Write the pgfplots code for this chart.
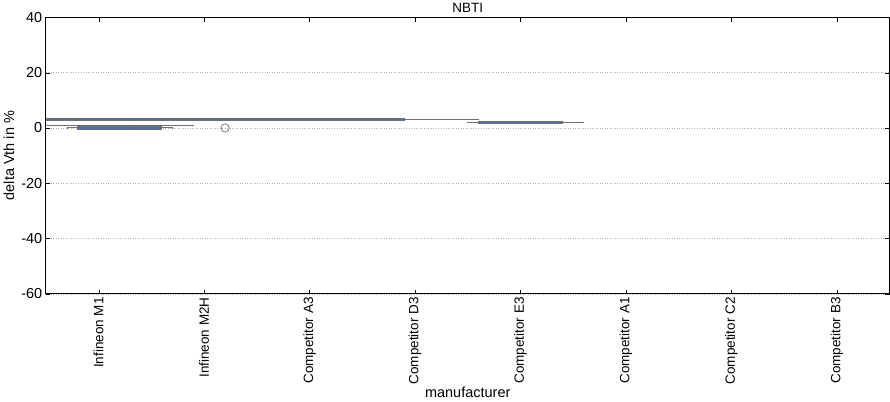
\documentclass[border=0pt]{standalone}
\usepackage{fontspec}
\setmainfont{Liberation Sans}
\usepackage{pgfplots}
\pgfplotsset{compat=1.18}
\usepgfplotslibrary{statistics}
\definecolor{sb}{HTML}{4C72B0}
\definecolor{gr}{HTML}{707070}
\tikzset{mybox/.style={fill=sb, draw=gr, line width=0.9pt, solid, mark=o, mark size=4pt, mark options={draw=gr, fill=none, line width=0.7pt}}}
\begin{document}
\begin{tikzpicture}
\begin{axis}[
  scale only axis, width=815pt, height=267pt,
  xmin=-0.5, xmax=7.5, ymin=-60, ymax=40,
  ytick={-60,-40,...,40},
  xtick={0,...,7},
  xticklabels={Infineon M1,Infineon M2H,Competitor A3,Competitor D3,Competitor E3,Competitor A1,Competitor C2,Competitor B3},
  xticklabel style={rotate=90,anchor=east,font=\fontsize{13}{15}\selectfont},
  yticklabel style={font=\fontsize{14}{16}\selectfont},
  /pgf/number format/assume math mode=true,
  ymajorgrids, grid style={gray!60,dotted},
  tick align=inside, tick style={black}, major tick length=4pt,
  title={NBTI}, title style={font=\fontsize{13}{15}\selectfont, yshift=-5pt},
  xlabel={manufacturer}, ylabel={delta Vth in \%},
  label style={font=\fontsize{14}{16}\selectfont},
  xlabel style={yshift=4pt},
  axis line style={black, line width=1pt},
]
\addplot[mybox, boxplot prepared={draw position=0,box extend=0.8,whisker extend=0.4,lower whisker=-0.3,lower quartile=-0.2,median=0.3,upper quartile=0.6,upper whisker=0.7}] coordinates {(0,1.2)};
\addplot[mybox, boxplot prepared={draw position=1,box extend=0.8,whisker extend=0.4,lower whisker=-5.25,lower quartile=-3.5,median=-2.25,upper quartile=-1,upper whisker=0.9}] coordinates {};
\addplot[mybox, boxplot prepared={draw position=2,box extend=0.8,whisker extend=0.4,lower whisker=3.5,lower quartile=3.6,median=4,upper quartile=4.4,upper whisker=4.6}] coordinates {};
\addplot[mybox, boxplot prepared={draw position=3,box extend=0.8,whisker extend=0.4,lower whisker=-10,lower quartile=-5.6,median=-1.4,upper quartile=2.9,upper whisker=3.6}] coordinates {};
\addplot[mybox, boxplot prepared={draw position=4,box extend=0.8,whisker extend=0.4,lower whisker=-12.75,lower quartile=-12.25,median=-11.4,upper quartile=-8.75,upper whisker=-7}] coordinates {};
\addplot[mybox, boxplot prepared={draw position=5,box extend=0.8,whisker extend=0.4,lower whisker=16,lower quartile=21.4,median=23.1,upper quartile=26,upper whisker=28.1}] coordinates {(5,37.5)};
\addplot[mybox, boxplot prepared={draw position=6,box extend=0.8,whisker extend=0.4,lower whisker=-37,lower quartile=-33.4,median=-28.25,upper quartile=-27,upper whisker=-25}] coordinates {};
\addplot[mybox, boxplot prepared={draw position=7,box extend=0.8,whisker extend=0.4,lower whisker=-54.9,lower quartile=-50.4,median=-47.1,upper quartile=-45.1,upper whisker=-44.4}] coordinates {};
\end{axis}
\end{tikzpicture}
\end{document}
